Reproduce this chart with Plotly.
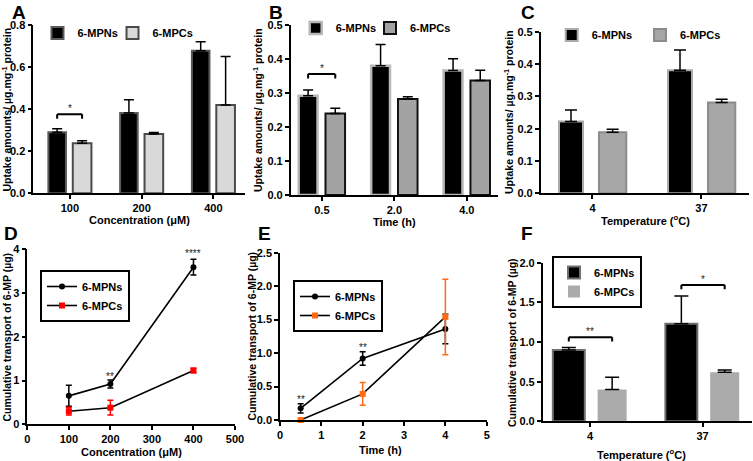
import plotly.graph_objects as go

# ---------------- data ----------------
conc_labels = ["100", "200", "400"]
a_mpns = [0.290, 0.382, 0.678]
a_mpns_err = [0.017, 0.063, 0.042]
a_mpcs = [0.238, 0.282, 0.420]
a_mpcs_err = [0.012, 0.007, 0.230]

time_labels = ["0.5", "2.0", "4.0"]
b_mpns = [0.292, 0.380, 0.366]
b_mpns_err = [0.017, 0.063, 0.035]
b_mpcs = [0.240, 0.282, 0.337]
b_mpcs_err = [0.015, 0.007, 0.030]

temp_labels = ["4", "37"]
c_mpns = [0.222, 0.381]
c_mpns_err = [0.036, 0.062]
c_mpcs = [0.189, 0.281]
c_mpcs_err = [0.009, 0.010]

d_conc = [100, 200, 400]
d_mpns = [0.65, 0.92, 3.59]
d_mpns_err = [0.24, 0.09, 0.18]
d_mpcs = [0.30, 0.38, 1.23]
d_mpcs_err = [0.09, 0.17, 0.05]

e_time = [0.5, 2, 4]
e_mpns = [0.174, 0.92, 1.36]
e_mpns_err = [0.07, 0.10, 0.22]
e_mpcs = [0.0, 0.39, 1.54]
e_mpcs_err = [0.0, 0.17, 0.565]

f_mpns = [0.90, 1.23]
f_mpns_err = [0.03, 0.35]
f_mpcs = [0.40, 0.62]
f_mpcs_err = [0.155, 0.027]

series_names = ["6-MPNs", "6-MPCs"]

# significance marks
sig_brackets = [("A", 0, 0.376, "*"), ("B", 0, 0.356, "*"),
                ("F", 0, 1.06, "**"), ("F", 1, 1.72, "*")]
d_stars = [(200, 1.10, "**"), (400, 3.90, "****")]
e_stars = [(0.5, 0.30, "**"), (2, 1.08, "**")]

# ---------------- layout helpers ----------------
W, H = 753, 461
FONT = "Liberation Sans, Arial, sans-serif"


def fx(p):
    return p / W


def fy(p):
    return 1 - p / H


def dom_x(a, b):
    return [fx(a), fx(b)]


def dom_y(top, bottom):
    return [fy(bottom), fy(top)]


tickfont = dict(family=FONT, size=11, color="black", weight="bold")
titlefont = dict(family=FONT, size=11, color="black", weight="bold")
ytitlefont = dict(family=FONT, size=10.5, color="black", weight="bold")


def axis(**kw):
    d = dict(showline=True, linecolor="black", linewidth=1.6, ticks="outside",
             ticklen=4, tickwidth=1.5, tickcolor="black", showgrid=False,
             zeroline=False, tickfont=tickfont, automargin=False, fixedrange=True)
    d.update(kw)
    return d


fig = go.Figure()

# bar geometry per panel (offset, width) in category units
geo = {
    "A": dict(off=(-0.30, 0.04), wid=(0.245, 0.26)),
    "B": dict(off=(-0.32, 0.05), wid=(0.26, 0.27)),
    "C": dict(off=(-0.307, 0.06), wid=(0.22, 0.25)),
    "F": dict(off=(-0.33, 0.068), wid=(0.284, 0.258)),
}
bar_panels = [
    ("A", "x", "y", ("legend", "legend7"), conc_labels, a_mpns, a_mpns_err, a_mpcs, a_mpcs_err,
     ("#000000", "#5a5a5a", 2), ("#d9d9d9", "#4a4a4a", 2), 5),
    ("B", "x2", "y2", ("legend2", "legend8"), time_labels, b_mpns, b_mpns_err, b_mpcs, b_mpcs_err,
     ("#000000", "#b8b8b8", 2.5), ("#a3a3a3", "#111111", 2), 5),
    ("C", "x3", "y3", ("legend3", "legend9"), temp_labels, c_mpns, c_mpns_err, c_mpcs, c_mpcs_err,
     ("#000000", "#ababab", 2), ("#a6a6a6", "#8c8c8c", 2), 6),
    ("F", "x6", "y6", ("legend6", "legend6"), temp_labels, f_mpns, f_mpns_err, f_mpcs, f_mpcs_err,
     ("#000000", "#707070", 2), ("#ababab", "#ababab", 0), 7),
]
for key, xa, ya, lgs, cats, v1, e1, v2, e2, s1, s2, capw in bar_panels:
    g = geo[key]
    for i, (vals, errs, sty) in enumerate([(v1, e1, s1), (v2, e2, s2)]):
        fig.add_trace(go.Bar(
            x=cats, y=vals, name=series_names[i], xaxis=xa, yaxis=ya, legend=lgs[i],
            offset=g["off"][i], width=g["wid"][i],
            marker=dict(color=sty[0], line=dict(color=sty[1], width=sty[2])),
            error_y=dict(type="data", array=errs, arrayminus=[0] * len(errs),
                         symmetric=False, color="black", thickness=1.5, width=capw),
            showlegend=True,
        ))

# line panels
line_panels = [
    ("x4", "y4", "legend4", d_conc, d_mpns, d_mpns_err, d_mpcs, d_mpcs_err, "#ff0000"),
    ("x5", "y5", "legend5", e_time, e_mpns, e_mpns_err, e_mpcs, e_mpcs_err, "#ff6a13"),
]
for xa, ya, lg, xs, v1, e1, v2, e2, col in line_panels:
    fig.add_trace(go.Scatter(
        x=xs, y=v1, name=series_names[0], xaxis=xa, yaxis=ya, legend=lg,
        mode="lines+markers", cliponaxis=False,
        line=dict(color="black", width=1.6),
        marker=dict(symbol="circle", size=6, color="black"),
        error_y=dict(type="data", array=e1, color="black", thickness=1.5, width=3)))
    fig.add_trace(go.Scatter(
        x=xs, y=v2, name=series_names[1], xaxis=xa, yaxis=ya, legend=lg,
        mode="lines+markers", cliponaxis=False,
        line=dict(color="black", width=1.6),
        marker=dict(symbol="square", size=6, color=col),
        error_y=dict(type="data", array=e2, color=col, thickness=1.5, width=3)))

# ---------------- axes ----------------
fig.update_layout(
    xaxis=axis(domain=dom_x(33.3, 245), anchor="y", type="category", range=[-0.51, 2.44]),
    yaxis=axis(domain=dom_y(25, 193.3), anchor="x", range=[0, 0.8], dtick=0.2, tickformat=".1f"),
    xaxis2=axis(domain=dom_x(290.7, 498), anchor="y2", type="category", range=[-0.43, 2.43]),
    yaxis2=axis(domain=dom_y(25, 195), anchor="x2", range=[0, 0.5], dtick=0.1, tickformat=".1f"),
    xaxis3=axis(domain=dom_x(540.7, 749), anchor="y3", type="category", range=[-0.475, 1.436]),
    yaxis3=axis(domain=dom_y(31.7, 193.3), anchor="x3", range=[0, 0.5], dtick=0.1, tickformat=".1f"),
    xaxis4=axis(domain=dom_x(27.3, 235), anchor="y4", range=[0, 500], dtick=100),
    yaxis4=axis(domain=dom_y(249.3, 424.3), anchor="x4", range=[0, 4], dtick=1),
    xaxis5=axis(domain=dom_x(280, 486.7), anchor="y5", range=[0, 5], dtick=1),
    yaxis5=axis(domain=dom_y(252.7, 420), anchor="x5", range=[0, 2.5], dtick=0.5, tickformat=".1f"),
    xaxis6=axis(domain=dom_x(542.7, 751.7), anchor="y6", type="category", range=[-0.42, 1.437]),
    yaxis6=axis(domain=dom_y(262.7, 421.3), anchor="x6", range=[0, 2], dtick=0.5, tickformat=".1f"),
)

# axis titles (as paper annotations, placed like the reference)
ytitle_top = "Uptake amounts/ µg.mg<sup>-1</sup> protein"
ytitle_bot = "Cumulative transport of 6-MP (µg)"
axis_titles = [
    ("Concentration (μM)", 139, 220, 0, titlefont), ("Time (h)", 394, 221.5, 0, titlefont),
    ("Temperature (<sup>o</sup>C)", 645, 220, 0, titlefont),
    ("Concentration (μM)", 131, 452, 0, titlefont), ("Time (h)", 380, 450, 0, titlefont),
    ("Temperature (<sup>o</sup>C)", 641, 454, 0, titlefont),
    (ytitle_top, 6.5, 110, -90, ytitlefont), (ytitle_top, 258, 110, -90, ytitlefont),
    (ytitle_top, 508, 112, -90, ytitlefont),
    (ytitle_bot, 6.5, 337, -90, ytitlefont), (ytitle_bot, 251.5, 336, -90, ytitlefont),
    (ytitle_bot, 512, 342, -90, ytitlefont),
]
for txt, x, y, ang, fnt in axis_titles:
    fig.add_annotation(xref="paper", yref="paper", x=fx(x), y=fy(y), text=txt, showarrow=False,
                       textangle=ang, xanchor="center", yanchor="middle", font=fnt)

# ---------------- legends ----------------
legfont = dict(family=FONT, size=11, color="black", weight="bold")


def hleg(x, y):
    return dict(orientation="h", x=fx(x), y=fy(y), xanchor="left", yanchor="middle",
                font=legfont, bgcolor="rgba(0,0,0,0)", borderwidth=0, itemwidth=30,
                itemclick=False, itemdoubleclick=False)


def vleg(x, y):
    return dict(orientation="v", x=fx(x), y=fy(y), xanchor="left", yanchor="top",
                font=legfont, bgcolor="white", bordercolor="black", borderwidth=2,
                itemwidth=30, itemclick=False, itemdoubleclick=False, tracegroupgap=0)


fig.update_layout(
    legend=hleg(37.5, 33), legend7=hleg(112.5, 33),
    legend2=hleg(295.7, 28), legend8=hleg(370, 28),
    legend3=hleg(551.7, 35), legend9=hleg(640, 35),
    legend4=vleg(40, 270),
    legend5=vleg(293, 280),
    legend6=vleg(552, 256),
)

# ---------------- significance marks ----------------
ax_of = {"A": ("x", "y"), "B": ("x2", "y2"), "F": ("x6", "y6")}
tick_h = {"A": 0.022, "B": 0.013, "F": 0.055}
star_font = dict(family=FONT, size=10, color="#222222")
for key, ci, yv, lab in sig_brackets:
    g = geo[key]
    xa, ya = ax_of[key]
    x0 = ci + g["off"][0] + g["wid"][0] / 2
    x1 = ci + g["off"][1] + g["wid"][1] / 2
    h = tick_h[key]
    for (sx0, sy0, sx1, sy1) in [(x0, yv, x1, yv), (x0, yv, x0, yv - h), (x1, yv, x1, yv - h)]:
        fig.add_shape(type="line", xref=xa, yref=ya, x0=sx0, y0=sy0, x1=sx1, y1=sy1,
                      line=dict(color="black", width=2))
    fig.add_annotation(xref=xa, yref=ya, x=(x0 + x1) / 2, y=yv, text=lab, showarrow=False,
                       yanchor="bottom", yshift=-2, font=star_font)
for xv, yv, lab in d_stars:
    fig.add_annotation(xref="x4", yref="y4", x=xv, y=yv, text=lab, showarrow=False, font=star_font)
for xv, yv, lab in e_stars:
    fig.add_annotation(xref="x5", yref="y5", x=xv, y=yv, text=lab, showarrow=False, font=star_font)

# panel letters
letter_font = dict(family=FONT, size=19, color="black", weight="bold")
for lab, x in [("A", 19), ("B", 276), ("C", 528)]:
    fig.add_annotation(xref="paper", yref="paper", x=fx(x), y=1, text=lab, showarrow=False,
                       xanchor="center", yanchor="top", font=letter_font)
for lab, x in [("D", 11), ("E", 264), ("F", 527)]:
    fig.add_annotation(xref="paper", yref="paper", x=fx(x), y=fy(233), text=lab, showarrow=False,
                       xanchor="center", yanchor="middle", font=letter_font)

fig.update_layout(width=W, height=H, margin=dict(l=0, r=0, t=0, b=0),
                  paper_bgcolor="white", plot_bgcolor="white", barmode="overlay",
                  font=dict(family=FONT, color="black"))
fig.write_html("out.html", config={"displayModeBar": False},
               post_script="document.body.style.margin='0';document.body.style.overflow='hidden';")
